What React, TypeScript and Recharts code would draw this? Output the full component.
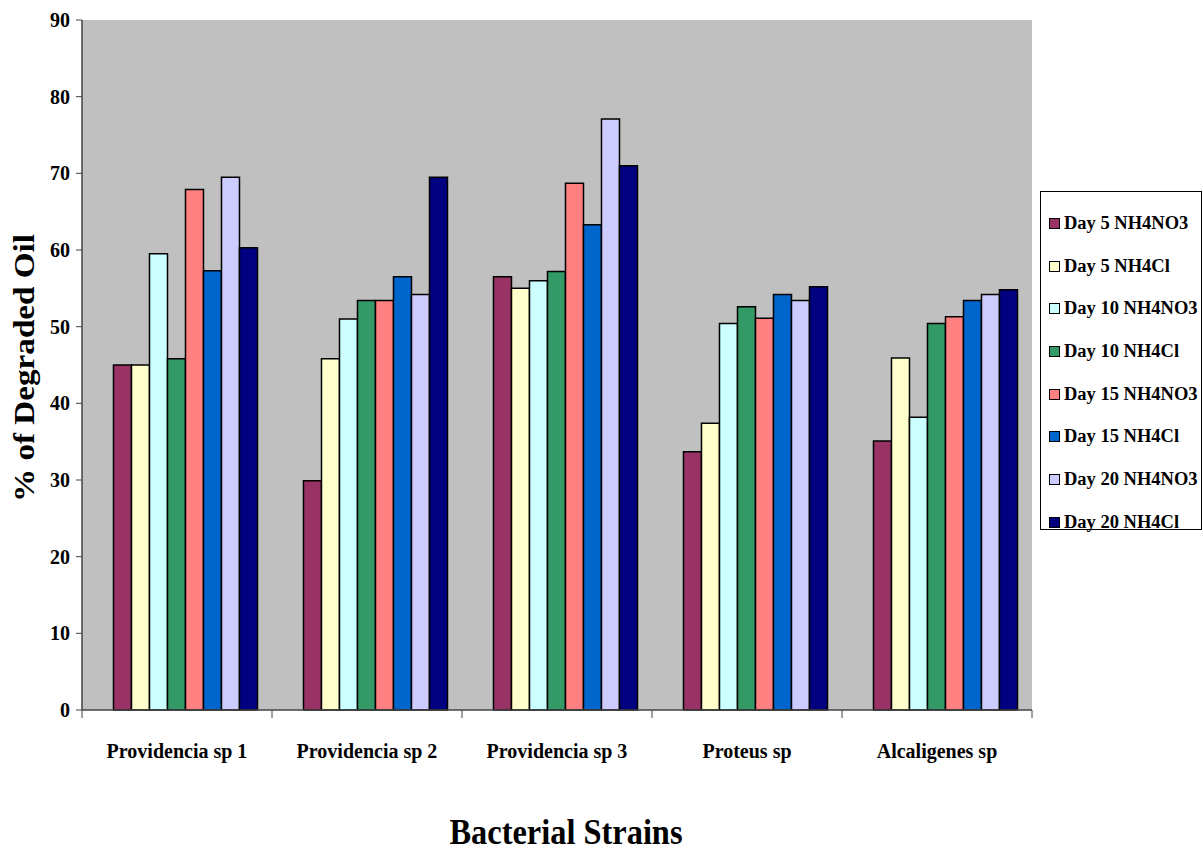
import React from 'react';
import { BarChart, Bar, XAxis, YAxis, CartesianGrid, Legend } from 'recharts';

const categories = ['Providencia sp 1', 'Providencia sp 2', 'Providencia sp 3', 'Proteus sp', 'Alcaligenes sp'];
const day5NH4NO3 = [45.0, 29.9, 56.5, 33.7, 35.1];
const day5NH4Cl = [45.0, 45.8, 55.0, 37.4, 45.9];
const day10NH4NO3 = [59.5, 51.0, 56.0, 50.4, 38.2];
const day10NH4Cl = [45.8, 53.4, 57.2, 52.6, 50.4];
const day15NH4NO3 = [67.9, 53.4, 68.7, 51.1, 51.3];
const day15NH4Cl = [57.3, 56.5, 63.3, 54.2, 53.4];
const day20NH4NO3 = [69.5, 54.2, 77.1, 53.4, 54.2];
const day20NH4Cl = [60.3, 69.5, 71.0, 55.2, 54.8];
const yTicks = [0, 10, 20, 30, 40, 50, 60, 70, 80, 90];

const seriesNames = ['Day 5 NH4NO3', 'Day 5 NH4Cl', 'Day 10 NH4NO3', 'Day 10 NH4Cl', 'Day 15 NH4NO3', 'Day 15 NH4Cl', 'Day 20 NH4NO3', 'Day 20 NH4Cl'];
const seriesValues = [day5NH4NO3, day5NH4Cl, day10NH4NO3, day10NH4Cl, day15NH4NO3, day15NH4Cl, day20NH4NO3, day20NH4Cl];
const seriesColors = ['#993366', '#FFFFCC', '#CCFFFF', '#339966', '#FF8080', '#0066CC', '#CCCCFF', '#000080'];

const data = categories.map((c, i) => {
  const row: Record<string, string | number> = { name: c };
  seriesNames.forEach((s, j) => {
    row[s] = seriesValues[j][i];
  });
  return row;
});

const FONT = '"Liberation Serif", "Times New Roman", serif';

const XTick = (props: any) => {
  const { x, y, payload, index, visibleTicksCount } = props;
  const half = payload && payload.offset ? payload.offset : 95;
  const isLast = index === visibleTicksCount - 1;
  return (
    <g>
      <line x1={x - half} y1={y - 8} x2={x - half} y2={y} stroke="#444" strokeWidth={1} />
      {isLast && <line x1={x + half} y1={y - 8} x2={x + half} y2={y} stroke="#444" strokeWidth={1} />}
      <text x={x} y={y + 40} textAnchor="middle" fontFamily={FONT} fontWeight="bold" fontSize={20} fill="#000">
        {payload.value}
      </text>
    </g>
  );
};

const YLabel = (props: any) => {
  const vb = props.viewBox || { x: 0, y: 20, width: 82, height: 690 };
  const cx = vb.x + 23;
  const cy = vb.y + vb.height / 2 + 3;
  return (
    <text
      x={cx}
      y={cy}
      transform={`rotate(-90, ${cx}, ${cy})`}
      textAnchor="middle"
      dominantBaseline="central"
      fontFamily={FONT}
      fontWeight="bold"
      fontSize={30}
      textLength={268}
      lengthAdjust="spacingAndGlyphs"
      fill="#000"
    >
      % of Degraded Oil
    </text>
  );
};

const XLabel = (props: any) => {
  const vb = props.viewBox || { x: 82, y: 710, width: 950, height: 143 };
  const cx = vb.x + vb.width / 2 + 9;
  return (
    <text
      x={cx}
      y={vb.y + 134}
      textAnchor="middle"
      fontFamily={FONT}
      fontWeight="bold"
      fontSize={36}
      textLength={233}
      lengthAdjust="spacingAndGlyphs"
      fill="#000"
    >
      Bacterial Strains
    </text>
  );
};

const LegendBox = () => (
  <div
    style={{
      border: '1px solid #000',
      background: '#fff',
      width: 162,
      height: 339,
      boxSizing: 'border-box',
      paddingTop: 10,
      paddingLeft: 8,
    }}
  >
    {seriesNames.map((s, i) => (
      <div key={s} style={{ display: 'flex', alignItems: 'center', height: 42.7 }}>
        <span
          style={{
            display: 'inline-block',
            width: 9,
            height: 9,
            background: seriesColors[i],
            border: '1.5px solid #000',
            marginRight: 4,
            flexShrink: 0,
          }}
        />
        <span style={{ fontFamily: FONT, fontWeight: 'bold', fontSize: 18.5, color: '#000', whiteSpace: 'nowrap' }}>{s}</span>
      </div>
    ))}
  </div>
);

export default function App() {
  return (
    <div style={{ position: 'absolute', left: 0, top: 0, width: 1203, height: 853, background: '#fff', overflow: 'hidden' }}>
      <BarChart
        width={1203}
        height={853}
        data={data}
        margin={{ top: 20, right: 9, bottom: 0, left: 0 }}
        barCategoryGap="7.1%"
        barGap={0}
      >
        <CartesianGrid horizontal={false} vertical={false} fill="#C0C0C0" stroke="none" />
        <XAxis
          dataKey="name"
          height={143}
          tickLine={false}
          tickSize={8}
          tickMargin={0}
          axisLine={{ stroke: '#444', strokeWidth: 1.5 }}
          tick={<XTick />}
          interval={0}
          label={<XLabel />}
        />
        <YAxis
          width={82}
          domain={[0, 90]}
          ticks={yTicks}
          interval={0}
          tickSize={6}
          tickMargin={6}
          tickLine={{ stroke: '#444' }}
          axisLine={{ stroke: '#444', strokeWidth: 1.5 }}
          tick={{ fontFamily: FONT, fontWeight: 'bold', fontSize: 20, fill: '#000' }}
          label={<YLabel />}
        />
        <Legend
          layout="vertical"
          align="right"
          verticalAlign="top"
          content={<LegendBox />}
          wrapperStyle={{ position: 'absolute', left: 1040, top: 191, width: 162, height: 339 }}
        />
        <Bar dataKey="__spacer" legendType="none" fill="none" stroke="none" isAnimationActive={false} />
        {seriesNames.map((s, i) => (
          <Bar key={s} dataKey={s} fill={seriesColors[i]} stroke="#000" strokeWidth={1.5} isAnimationActive={false} />
        ))}
      </BarChart>
    </div>
  );
}
